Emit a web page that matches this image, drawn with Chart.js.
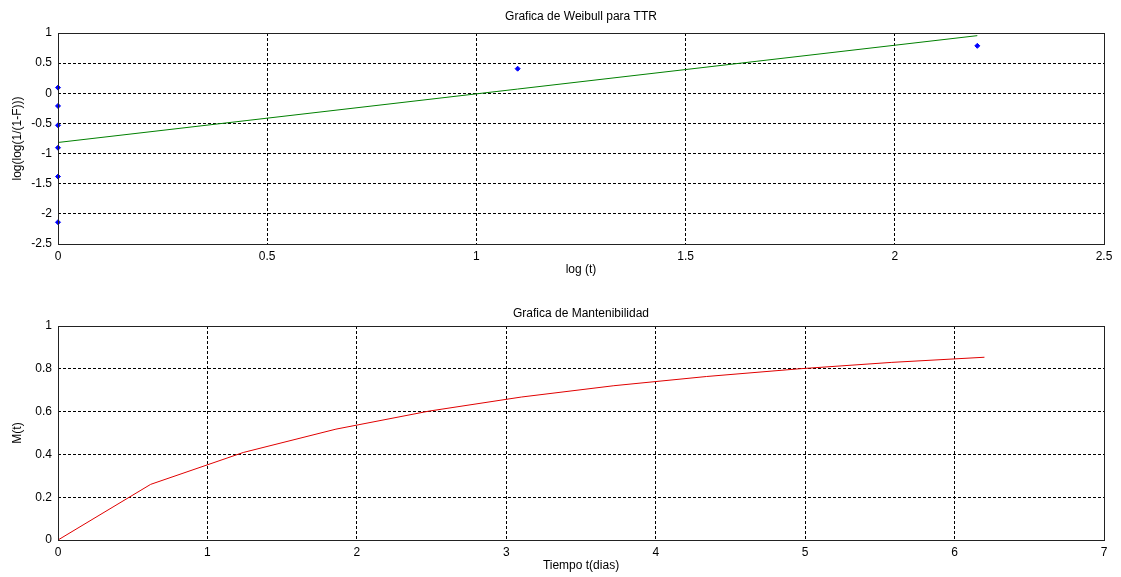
<!DOCTYPE html>
<html>
<head>
<meta charset="utf-8">
<script src="https://cdn.jsdelivr.net/npm/chart.js"></script>
<style>
  body { margin: 0; background: #fff; }
  canvas { display: block; }
</style>
</head>
<body>
<canvas id="weibull" width="1121" height="290"></canvas>
<canvas id="mant" width="1121" height="287"></canvas>
<script>
// datos
let logT = [0, 0, 0, 0, 0, 0, 1.0986, 2.1972];
let weibullY = [-2.139, -1.381, -0.903, -0.531, -0.210, 0.094, 0.408, 0.787];
let fitX = [0, 2.1972];
let fitY = [-0.816, 0.956];

let tiempo = [0, 0.62, 1.24, 1.86, 2.48, 3.10, 3.72, 4.34, 4.96, 5.58, 6.20];
let mantY = [0, 0.260, 0.409, 0.518, 0.602, 0.668, 0.721, 0.764, 0.800, 0.830, 0.854];

let fuente = "'Liberation Sans', Arial, sans-serif";
Chart.defaults.font.family = fuente;
Chart.defaults.font.size = 12;
Chart.defaults.color = "#000";

// marco completo alrededor del area del grafico
let marco = {
  id: "marco",
  afterDatasetsDraw(chart) {
    let a = chart.chartArea;
    let ctx = chart.ctx;
    ctx.save();
    ctx.strokeStyle = "#222";
    ctx.lineWidth = 1;
    ctx.strokeRect(Math.round(a.left) + 0.5, Math.round(a.top) + 0.5,
      Math.round(a.right - a.left), Math.round(a.bottom - a.top));
    ctx.restore();
  }
};

function pares(xs, ys) {
  return xs.map(function (x, i) { return { x: x, y: ys[i] }; });
}

function etiqueta(v) {
  return String(Math.round(v * 100) / 100);
}

function grid() {
  return { color: "#000", lineWidth: 1, drawTicks: false };
}

function borde() {
  return { display: false, dash: [3, 2] };
}

new Chart("weibull", {
  type: "scatter",
  data: {
    datasets: [
      {
        data: pares(logT, weibullY),
        backgroundColor: "#0000ff",
        borderColor: "#0000ff",
        pointStyle: "rectRot",
        pointRadius: 2.5,
        clip: false
      },
      {
        data: pares(fitX, fitY),
        showLine: true,
        borderColor: "#008000",
        borderWidth: 1,
        pointRadius: 0
      }
    ]
  },
  options: {
    responsive: false,
    animation: false,
    layout: { padding: { right: 17, left: 0, top: 0, bottom: 0 } },
    plugins: {
      legend: { display: false },
      tooltip: { enabled: false },
      title: {
        display: true,
        fullSize: false,
        text: "Grafica de Weibull para TTR",
        font: { size: 12, weight: "normal" },
        color: "#000",
        padding: { top: 9.8, bottom: 8.8 }
      }
    },
    scales: {
      x: {
        min: 0, max: 2.5,
        ticks: { stepSize: 0.5, padding: 5, callback: etiqueta },
        grid: grid(),
        border: borde(),
        title: { display: true, text: "log (t)", padding: { top: 0, bottom: 12.8 } },
        afterFit: function (s) { s.height = 46; }
      },
      y: {
        min: -2.5, max: 1,
        ticks: { stepSize: 0.5, padding: 6, callback: etiqueta },
        grid: grid(),
        border: borde(),
        title: { display: true, text: "log(log(1/(1-F)))", padding: { top: 10.8, bottom: 0 } },
        afterFit: function (s) { s.width = 58; }
      }
    }
  },
  plugins: [marco]
});

new Chart("mant", {
  type: "scatter",
  data: {
    datasets: [
      {
        data: pares(tiempo, mantY),
        showLine: true,
        borderColor: "#e00000",
        borderWidth: 1,
        pointRadius: 0
      }
    ]
  },
  options: {
    responsive: false,
    animation: false,
    layout: { padding: { right: 17, left: 0, top: 0, bottom: 0 } },
    plugins: {
      legend: { display: false },
      tooltip: { enabled: false },
      title: {
        display: true,
        fullSize: false,
        text: "Grafica de Mantenibilidad",
        font: { size: 12, weight: "normal" },
        color: "#000",
        padding: { top: 16.8, bottom: 4.8 }
      }
    },
    scales: {
      x: {
        min: 0, max: 7,
        ticks: { stepSize: 1, padding: 5, callback: etiqueta },
        grid: grid(),
        border: borde(),
        title: { display: true, text: "Tiempo t(dias)", padding: { top: 0, bottom: 3.8 } },
        afterFit: function (s) { s.height = 37; }
      },
      y: {
        min: 0, max: 1,
        ticks: { stepSize: 0.2, padding: 6, callback: etiqueta },
        grid: grid(),
        border: borde(),
        title: { display: true, text: "M(t)", padding: { top: 10.8, bottom: 0 } },
        afterFit: function (s) { s.width = 58; }
      }
    }
  },
  plugins: [marco]
});
</script>
</body>
</html>
